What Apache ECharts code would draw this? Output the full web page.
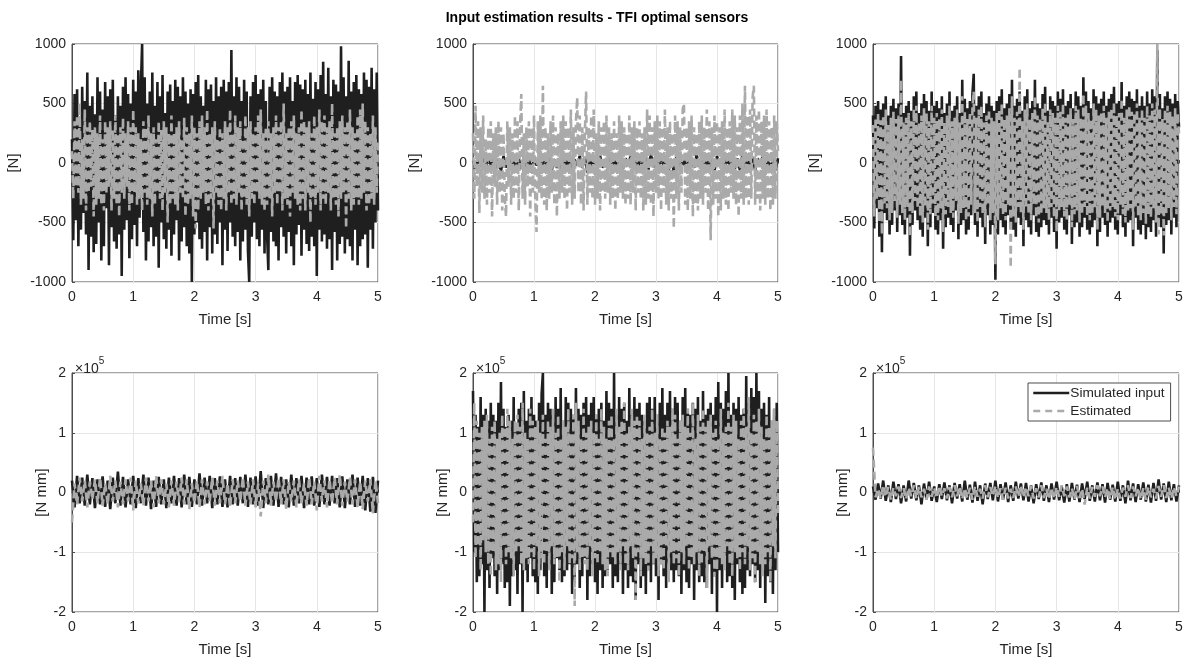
<!DOCTYPE html>
<html><head><meta charset="utf-8">
<script src="https://cdn.jsdelivr.net/npm/echarts@6/dist/echarts.min.js"></script>
<style>html,body{margin:0;padding:0;background:#fff}#c{width:1194px;height:661px}</style>
</head><body><div id="c"></div>
<script>
// ---- data (time 0..5 s, uniform samples) ----
const xTicks = [0,1,2,3,4,5];
const forceTicks = [-1000,-500,0,500,1000];
const momentTicks = [-200000,-100000,0,100000,200000];

const p1Sim = [200,-650,580,-480,620,-700,350,-560,640,-420,
520,-600,760,-900,480,-620,560,-750,410,-680,
720,-500,600,-820,450,-700,680,-380,560,-860,
620,-540,700,-660,400,-720,560,-600,480,-950,
640,-560,720,-480,580,-800,500,-640,700,-520,
600,-700,780,-460,640,1000,-580,720,-820,500,
-660,600,-540,760,-700,480,-620,680,-880,560,
-500,740,-640,420,-720,600,-560,660,-780,520,
-600,700,-480,640,-820,560,-660,720,-540,600,
-700,500,-760,620,-1000,580,-600,680,-500,740,
-640,560,-720,480,-580,700,-820,620,-540,660,
-760,520,-600,720,-680,560,-500,640,-860,700,
-560,600,-740,680,-500,950,-620,560,-700,720,
-580,640,-820,520,-660,700,-560,600,-740,-1000,
560,-620,680,-500,740,-640,580,-700,620,-560,
700,-760,520,-600,-900,640,-580,720,-660,600,
-700,560,-820,680,-540,760,-620,600,-760,640,
-580,720,-700,520,-860,680,-600,740,-520,660,
-780,620,-560,700,-680,580,-740,760,-620,540,
-700,680,-950,620,-560,740,-660,850,-600,580,
-720,800,-640,560,-900,700,-580,660,-820,600,
-680,980,-620,720,-760,560,-640,860,-700,600,
-820,680,-560,740,-860,620,-700,580,-640,760,
-600,700,-880,640,-560,800,-720,620,-500,760,-400];
const p1Est = [100,-300,350,-200,400,-250,500,-350,200,-300,
450,-400,300,-250,350,-200,280,-450,300,-350,
250,-300,400,-350,200,-400,350,-250,300,-200,
350,-400,280,-300,400,-350,250,-450,300,-250,
380,-300,250,-200,350,-400,300,-350,450,-250,
300,-350,250,-300,200,-400,350,-250,300,-350,
400,-300,250,-450,300,-350,200,-250,350,-300,
280,-400,350,-250,300,-500,250,-350,400,-300,
250,-350,300,-400,350,-250,200,-300,380,-450,
300,-350,250,-300,400,-450,300,-550,250,-400,
350,-300,400,-250,300,-350,450,-400,250,-300,
300,-550,350,-250,200,-350,300,-400,250,-300,
350,-400,300,-250,450,-350,250,-300,400,-350,
300,-250,350,-400,200,-300,400,-350,300,-450,
350,-300,250,-350,300,-250,400,-300,450,-350,
250,-400,300,-350,350,-300,250,-450,300,-250,
400,-350,300,-250,350,-400,500,-300,250,-350,
300,-450,350,-250,400,-300,250,-350,300,-400,
450,-300,350,-400,300,-250,350,-500,250,-300,
400,-350,300,-250,450,-400,350,-300,400,-350,
300,-250,350,-400,500,-300,250,-350,300,-450,
350,-300,400,-250,300,-550,350,-300,450,-400,
300,-350,250,-300,400,-350,450,-300,500,-250,
350,-400,300,-350,250,-300,400,-350,300,-250,200];

const p2Sim = [20,-50,60,-30,40,-60,70,-20,50,-40,
30,-70,60,-40,50,-30,20,-60,40,-50,
60,-30,40,-80,50,-20,30,-50,70,-40,
50,-60,30,-40,20,-70,60,-30,40,-50,
30,-20,60,-40,50,-80,40,-30,20,-50,
60,-40,30,-60,50,-20,40,-70,30,-50,
40,-30,60,-50,20,-40,70,-30,50,-60,
80,-40,30,-50,60,-20,40,-60,30,-70,
50,-30,40,-20,60,-50,30,-40,70,-30,
20,-60,50,-40,30,-70,60,-20,40,-50,
60,-30,20,-50,40,-60,70,-40,30,-20,
50,-60,40,-30,60,-50,20,-40,30,-60,40];
const p2Est = [250,-300,480,-200,350,-420,300,-250,400,-300,
200,-350,300,-250,350,-450,250,-200,300,-350,
350,-250,300,-400,250,-300,-450,350,-200,300,
-350,250,-300,400,-250,350,-400,300,580,-300,
250,-350,300,-200,350,-450,300,-250,400,-300,
-580,350,-250,400,-300,650,-350,300,-400,250,
-300,350,-250,400,-350,300,-450,250,-300,350,
-250,400,-300,350,-400,300,-250,450,-350,300,
-300,350,550,-250,400,-350,300,-400,250,600,
-350,300,-250,400,-300,450,-350,250,-300,350,
-400,300,-250,350,-300,400,-250,300,-350,250,
-300,350,-400,250,-300,400,-250,350,-300,300,
-350,250,-300,400,-350,300,-250,350,-400,300,
-250,350,-300,250,-400,300,-350,450,-300,400,
-350,300,-450,350,-250,400,-300,350,-400,300,
-250,450,-350,300,-400,350,-300,250,-550,400,
-300,350,-400,300,-250,450,500,-350,300,-400,
350,-300,400,-450,300,-350,250,-400,350,-300,
400,-350,300,-250,450,-400,350,-650,300,-350,
400,-300,350,-450,300,-400,350,-300,450,-350,
300,-400,350,-250,450,-300,400,-350,300,-450,
400,-300,500,-350,650,-300,400,-350,450,-300,
550,650,-350,400,-300,450,-400,350,-300,400,
-350,450,-300,350,-400,300,-350,400,-300,350,100];

const p3Sim = [400,-550,480,-380,520,-620,450,-750,500,-420,
560,-480,400,-600,480,-520,540,-400,460,-580,
500,-440,900,-520,420,-600,480,-460,520,-780,
440,-520,560,-400,600,-480,420,-560,500,-620,
580,-460,520,-700,440,-540,600,-420,480,-560,
520,-600,460,-480,560,-720,420,-540,500,-460,
600,-520,440,-580,480,-400,560,-640,420,-520,
700,-480,540,-600,460,-560,520,-440,580,750,
-520,480,-620,560,-460,600,-540,420,-680,500,
-440,560,-600,480,-520,440,-980,520,-600,560,
-480,620,-540,460,-600,500,-440,580,-520,700,
-560,480,-620,540,-460,600,-520,440,-700,560,
-480,620,-540,460,-600,520,-440,700,-580,500,
-620,460,-540,580,-480,640,-520,440,-600,560,
-460,520,-580,480,-720,600,-500,540,-460,620,
-560,480,-600,520,-440,580,-680,460,-540,600,
-500,560,-620,480,-540,720,-460,600,-560,520,
-600,460,-540,620,-480,560,-700,500,-580,540,
-460,600,-520,480,-620,540,-500,580,-460,640,
-560,500,-600,520,-440,680,-540,480,-620,560,
-500,600,-480,540,-700,520,-460,620,-560,480,
-600,560,-520,480,-640,600,-540,500,-580,620,
-480,560,-620,950,-500,580,-540,460,-760,560,
-520,600,-480,540,-600,500,-460,580,-540,520,300];
const p3Est = [320,-450,380,-300,420,-500,360,-600,400,-340,
450,-380,320,-480,380,-420,430,-320,370,-460,
400,-350,700,-420,340,-480,380,-370,420,-620,
350,-420,450,-320,480,-380,340,-450,400,-500,
460,-370,420,-560,350,-430,480,-340,380,-450,
420,-480,370,-380,450,-580,340,-430,400,-370,
480,-420,350,-460,380,-320,450,-510,340,-420,
560,-380,430,-480,370,-450,420,-350,460,600,
-420,380,-500,450,-370,480,-430,340,-540,400,
-350,450,-480,380,-420,350,-850,420,-480,450,
-380,500,-430,370,-480,400,-350,460,-880,560,
-450,380,-500,430,-370,800,-420,350,-560,450,
-380,500,-430,370,-480,420,-350,560,-460,400,
-500,370,-430,460,-380,510,-420,350,-480,450,
-370,420,-460,380,-580,480,-400,430,-370,500,
-450,380,-480,420,-350,460,-540,370,-430,480,
-400,450,-500,380,-430,580,-370,480,-450,420,
-480,370,-430,500,-380,450,-560,400,-460,430,
-370,480,-420,380,-500,430,-400,460,-370,510,
-450,400,-480,420,-350,540,-430,380,-500,450,
-400,480,-380,430,-560,420,-370,500,-450,380,
-480,450,-420,380,-510,480,-430,400,-460,500,
-380,450,-500,1000,-600,460,-430,370,-610,450,
-420,480,-380,430,-480,400,-370,460,-430,420,250];

const p4Sim = [20000,-25000,28000,-18000,25000,-22000,30000,-20000,24000,-26000,
22000,-20000,27000,-24000,20000,-28000,25000,-18000,35000,-22000,
26000,-25000,22000,-20000,28000,-26000,24000,-18000,30000,-22000,
25000,-28000,20000,-24000,26000,-20000,22000,-26000,25000,-18000,
28000,-22000,24000,-25000,30000,-20000,26000,-24000,22000,-20000,
32000,-22000,25000,-18000,28000,-26000,24000,-20000,27000,-24000,
22000,-25000,28000,-20000,24000,-22000,26000,-18000,30000,-24000,
25000,-20000,27000,-22000,36000,-26000,24000,-20000,28000,-22000,
32000,-24000,26000,-20000,22000,-25000,30000,-22000,24000,-18000,
28000,-26000,25000,-20000,27000,-22000,24000,-24000,30000,-20000,
26000,-22000,28000,-18000,24000,-25000,27000,-26000,22000,-20000,
30000,-24000,25000,-22000,28000,-30000,24000,-32000,26000,-34000,20000];
const p4Est = [-50000,15000,-20000,25000,-15000,20000,-25000,18000,-12000,22000,
-18000,25000,-22000,15000,-20000,28000,-15000,20000,-25000,18000,
-20000,22000,-15000,25000,-30000,20000,-18000,15000,-22000,25000,
-15000,20000,-25000,28000,-18000,22000,-20000,15000,-25000,20000,
-22000,18000,-15000,25000,-20000,22000,-28000,15000,-18000,20000,
-25000,22000,-20000,18000,-15000,25000,-22000,20000,-18000,28000,
-20000,15000,-25000,22000,-18000,20000,-15000,25000,-22000,18000,
-20000,22000,-25000,15000,-40000,20000,-18000,30000,-22000,18000,
-15000,25000,-20000,22000,-28000,18000,-15000,20000,-25000,22000,
-18000,15000,-22000,25000,-20000,18000,-30000,28000,-15000,20000,
-25000,22000,-18000,25000,-20000,30000,-22000,18000,-15000,25000,
-20000,22000,-25000,18000,-28000,20000,-15000,22000,-35000,20000,-18000];

const p5Sim = [170000,-100000,130000,-150000,110000,-140000,160000,-120000,130000,-200000,
140000,-130000,120000,-160000,150000,-110000,130000,-140000,120000,-170000,
150000,-130000,185000,-120000,140000,-160000,110000,-150000,130000,-190000,
120000,-140000,160000,-130000,110000,-170000,140000,-120000,150000,-200000,
170000,-130000,120000,-150000,140000,-110000,160000,-140000,130000,-150000,
120000,-170000,150000,-130000,165000,200000,-140000,130000,-160000,150000,
-120000,140000,-170000,130000,-150000,160000,-110000,140000,-130000,175000,
-150000,120000,-140000,160000,-130000,150000,-120000,140000,-170000,130000,
-150000,175000,-120000,140000,-160000,130000,-140000,150000,-110000,160000,
-180000,130000,-140000,150000,-120000,160000,-150000,130000,-170000,140000,
-130000,150000,-160000,120000,-140000,170000,-130000,150000,-120000,140000,
-160000,200000,-140000,130000,-150000,160000,-120000,140000,-170000,150000,
-130000,120000,-160000,175000,-140000,130000,-150000,160000,-180000,140000,
-120000,150000,-160000,130000,-140000,120000,-170000,150000,-130000,160000,
-150000,140000,-120000,160000,-140000,130000,-180000,150000,-120000,175000,
-140000,130000,-160000,150000,-120000,170000,-130000,140000,-150000,160000,
-130000,150000,-140000,120000,-170000,160000,-130000,175000,-150000,140000,
-160000,130000,-120000,150000,-180000,140000,-130000,160000,-150000,120000,
-140000,170000,-150000,130000,-160000,140000,-120000,150000,-170000,130000,
-140000,160000,-200000,185000,-130000,150000,-160000,140000,-120000,170000,
-150000,200000,-140000,130000,-160000,150000,-180000,140000,-120000,160000,
-150000,130000,-170000,140000,-160000,195000,-130000,150000,-140000,175000,
-120000,160000,-150000,200000,-130000,170000,-160000,140000,-120000,150000,
-185000,130000,-140000,160000,-150000,120000,-170000,140000,-130000,150000,-100000];
const p5Est = [-50000,150000,-110000,120000,-90000,100000,-130000,110000,-80000,120000,
-100000,130000,-120000,90000,-140000,110000,-100000,120000,-130000,90000,
-120000,100000,-150000,130000,-90000,110000,-120000,140000,-100000,120000,
-110000,90000,-140000,120000,-100000,130000,-90000,110000,-120000,150000,
-130000,100000,-110000,90000,-120000,140000,-100000,120000,-130000,110000,
-90000,120000,-140000,100000,-110000,130000,-120000,90000,-100000,120000,
-130000,110000,-90000,140000,-120000,100000,-110000,130000,-150000,90000,
-100000,120000,-130000,110000,-90000,140000,-120000,100000,-110000,130000,
-190000,150000,-100000,120000,-130000,90000,-110000,140000,-120000,100000,
-130000,110000,-90000,120000,-140000,100000,-110000,130000,-120000,90000,
-100000,140000,-120000,110000,-130000,90000,-140000,120000,-100000,130000,
-110000,90000,-120000,140000,-100000,110000,-130000,120000,-90000,150000,
-120000,100000,-130000,110000,-90000,140000,-110000,120000,-180000,130000,
-100000,120000,-140000,90000,-110000,130000,-120000,100000,-130000,110000,
-90000,140000,-120000,100000,-110000,130000,-140000,90000,-120000,110000,
-130000,100000,-90000,120000,-150000,110000,-100000,140000,-120000,130000,
-110000,90000,-140000,120000,-100000,130000,-120000,110000,-90000,140000,
-130000,100000,-110000,150000,-120000,90000,-100000,130000,-140000,110000,
-120000,140000,-100000,110000,-160000,120000,-90000,130000,-110000,100000,
-140000,120000,-130000,90000,-110000,140000,-120000,100000,-130000,110000,
-90000,150000,-120000,110000,-140000,130000,-100000,120000,-110000,90000,
-130000,120000,-100000,140000,-120000,110000,-90000,160000,-130000,100000,
-110000,130000,-150000,120000,-100000,140000,-120000,110000,-140000,90000,
-120000,130000,-100000,110000,-150000,120000,-90000,140000,-110000,120000,-40000];

const p6Sim = [10000,-12000,15000,-10000,20000,-14000,12000,-16000,18000,-11000,
14000,-18000,12000,-15000,20000,-10000,16000,-13000,12000,-20000,
15000,-12000,18000,-14000,10000,-16000,14000,-11000,17000,-13000,
12000,-18000,16000,-10000,14000,-15000,20000,-12000,13000,-17000,
18000,-14000,12000,-20000,15000,-11000,16000,-13000,20000,-15000,
14000,-12000,17000,-16000,12000,-14000,18000,-10000,15000,-13000,
16000,-15000,12000,-18000,14000,-11000,17000,-14000,12000,-16000,
15000,-12000,18000,-13000,10000,-17000,14000,-15000,16000,-12000,
13000,-16000,15000,-11000,18000,-14000,12000,-15000,17000,-13000,
14000,-17000,16000,-12000,13000,-15000,18000,-14000,12000,-18000,
20000,-13000,15000,-16000,14000,-12000,17000,-15000,13000,-17000,
16000,-14000,22000,-12000,15000,-16000,18000,-13000,14000,-15000,12000];
const p6Est = [75000,-8000,6000,-10000,12000,-7000,9000,-12000,8000,-6000,
10000,-9000,7000,-11000,8000,-6000,12000,-10000,9000,-8000,
6000,-12000,10000,-7000,8000,-9000,11000,-6000,7000,-10000,
9000,-8000,12000,-6000,10000,-11000,7000,-9000,8000,-12000,
10000,-7000,6000,-10000,12000,-8000,9000,-6000,11000,-9000,
7000,-12000,8000,-10000,6000,-9000,10000,-7000,12000,-8000,
9000,-6000,11000,-10000,7000,-8000,12000,-9000,6000,-11000,
8000,-10000,9000,-7000,12000,-6000,10000,-8000,7000,-12000,
11000,-9000,6000,-20000,8000,-10000,9000,-7000,12000,-6000,
10000,-8000,7000,-11000,9000,-12000,6000,-10000,8000,-7000,
12000,-9000,10000,-6000,8000,-11000,7000,-12000,9000,-8000,
6000,-10000,11000,-7000,12000,-9000,8000,-10000,9000,-6000,10000];

const panels = [
  {sim:p1Sim, est:p1Est, ticks:forceTicks, yName:'[N]'},
  {sim:p2Sim, est:p2Est, ticks:forceTicks, yName:'[N]'},
  {sim:p3Sim, est:p3Est, ticks:forceTicks, yName:'[N]'},
  {sim:p4Sim, est:p4Est, ticks:momentTicks, yName:'[N mm]'},
  {sim:p5Sim, est:p5Est, ticks:momentTicks, yName:'[N mm]'},
  {sim:p6Sim, est:p6Est, ticks:momentTicks, yName:'[N mm]'}
];

// ---- layout ----
const lefts = [72, 473, 873];
const widths = [306, 305, 306];
const tops = [44, 373];
const heights = [238, 239];
const FONT = '"Liberation Sans", Arial, Helvetica, sans-serif';
const AX = '#4d4d4d';
const TXT = '#262626';

const grids=[], xAxes=[], yAxes=[], series=[], graphics=[];
panels.forEach((p,i)=>{
  const col=i%3, row=Math.floor(i/3);
  grids.push({left:lefts[col], top:tops[row], width:widths[col], height:heights[row],
    show:true, borderColor:AX, borderWidth:1, backgroundColor:'transparent'});
  xAxes.push({type:'value', gridIndex:i, min:xTicks[0], max:xTicks[xTicks.length-1], interval:1,
    name:'Time [s]', nameLocation:'middle', nameGap:30,
    nameTextStyle:{fontFamily:FONT, fontSize:15, color:TXT},
    axisLine:{show:true, lineStyle:{color:AX, width:1}},
    axisTick:{show:true, inside:true, length:3, lineStyle:{color:AX}},
    axisLabel:{fontFamily:FONT, fontSize:14, color:TXT, margin:8},
    splitLine:{show:true, lineStyle:{color:'#e6e6e6', width:1}}});
  const isMoment = row===1;
  yAxes.push({type:'value', gridIndex:i, min:p.ticks[0], max:p.ticks[p.ticks.length-1],
    interval:p.ticks[1]-p.ticks[0],
    name:p.yName, nameLocation:'middle', nameGap: isMoment?21:51, nameRotate:90,
    nameTextStyle:{fontFamily:FONT, fontSize:15, color:TXT},
    axisLine:{show:true, lineStyle:{color:AX, width:1}},
    axisTick:{show:true, inside:true, length:3, lineStyle:{color:AX}},
    axisLabel:{fontFamily:FONT, fontSize:14, color:TXT, margin:6,
      formatter: v => isMoment ? String(Math.round(v/100000)) : String(v)},
    splitLine:{show:true, lineStyle:{color:'#e6e6e6', width:1}}});
  const toPts = arr => arr.map((v,k)=>[k*5/(arr.length-1), v]);
  series.push({name:'Simulated input', type:'line', xAxisIndex:i, yAxisIndex:i,
    data:toPts(p.sim), showSymbol:false, symbol:'none', animation:false, z:2,
    lineStyle:{color:'#1f1f1f', width:2.6}, itemStyle:{color:'#1f1f1f'}});
  series.push({name:'Estimated', type:'line', xAxisIndex:i, yAxisIndex:i,
    data:toPts(p.est), showSymbol:false, symbol:'none', animation:false, z:3,
    lineStyle:{color:'#aaaaaa', width:2.6, type:[8,4]}, itemStyle:{color:'#aaaaaa'}});
  if(isMoment){
    graphics.push({type:'text', left:lefts[col]+3, top:tops[row]-17,
      style:{text:'{a|×10}{b|5}', fontFamily:FONT,
        rich:{a:{fontSize:14, fontFamily:FONT, fill:TXT, color:TXT, verticalAlign:'bottom', padding:[6,0,0,0]},
              b:{fontSize:10, fontFamily:FONT, fill:TXT, color:TXT, verticalAlign:'top'}}}});
  }
});

const chart = echarts.init(document.getElementById('c'), null, {renderer:'canvas'});
chart.setOption({
  backgroundColor:'#fff',
  animation:false,
  title:{text:'Input estimation results - TFI optimal sensors', left:'center', top:6,
    textStyle:{fontFamily:FONT, fontSize:14, fontWeight:'bold', color:'#000'}},
  legend:{data:[{name:'Simulated input', lineStyle:{type:'solid', width:2.5}},
                {name:'Estimated', lineStyle:{type:[7,5], width:2.5}}],
    left:1028, top:383, orient:'vertical',
    itemWidth:36, itemHeight:13, itemGap:4, padding:[3,6,3,4],
    backgroundColor:'#fff', borderColor:AX, borderWidth:1, borderRadius:0,
    itemStyle:{opacity:0},
    textStyle:{fontFamily:FONT, fontSize:13.7, color:TXT, padding:[0,0,0,-4]}},
  grid:grids, xAxis:xAxes, yAxis:yAxes, series:series, graphic:graphics
});
</script></body></html>
